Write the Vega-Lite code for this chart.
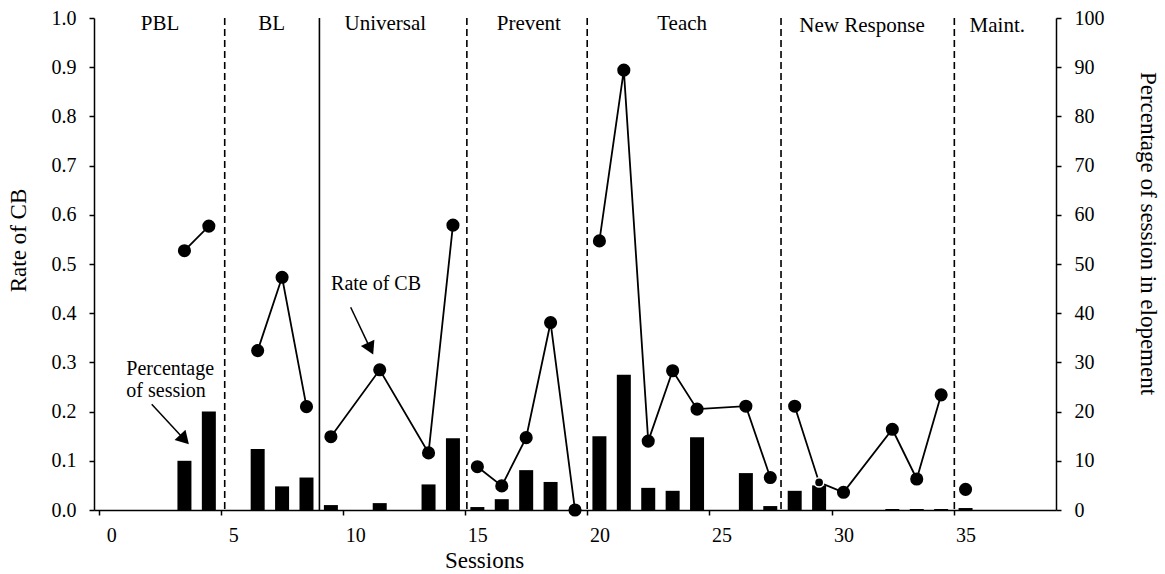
{
  "$schema": "https://vega.github.io/schema/vega-lite/v6.json",
  "width": 962,
  "height": 492,
  "autosize": {"type": "none"},
  "padding": {"left": 94, "top": 18, "right": 109, "bottom": 64},
  "background": "white",
  "config": {
    "view": {"stroke": null},
    "font": "Liberation Serif",
    "axis": {
      "labelFont": "Liberation Serif",
      "labelFontSize": 20,
      "labelColor": "black",
      "titleFont": "Liberation Serif",
      "titleFontSize": 23,
      "titleFontWeight": "normal",
      "titleColor": "black",
      "domainColor": "black",
      "domainWidth": 1.5,
      "tickColor": "black",
      "tickWidth": 1.5,
      "tickSize": 5,
      "grid": false,
      "labelFlush": false,
      "labelOverlap": false
    },
    "text": {"font": "Liberation Serif", "color": "black"}
  },
  "datasets": {
    "sessions": [
      {"session": 3, "rate": 0.527, "pct": 10.0, "phase": "PBL"},
      {"session": 4, "rate": 0.577, "pct": 20.0, "phase": "PBL"},
      {"session": 6, "rate": 0.324, "pct": 12.4, "phase": "BL"},
      {"session": 7, "rate": 0.473, "pct": 4.8, "phase": "BL"},
      {"session": 8, "rate": 0.21, "pct": 6.6, "phase": "BL"},
      {"session": 9, "rate": 0.149, "pct": 1.0, "phase": "Universal"},
      {"session": 11, "rate": 0.285, "pct": 1.4, "phase": "Universal"},
      {"session": 13, "rate": 0.116, "pct": 5.2, "phase": "Universal"},
      {"session": 14, "rate": 0.579, "pct": 14.6, "phase": "Universal"},
      {"session": 15, "rate": 0.088, "pct": 0.6, "phase": "Prevent"},
      {"session": 16, "rate": 0.049, "pct": 2.2, "phase": "Prevent"},
      {"session": 17, "rate": 0.147, "pct": 8.1, "phase": "Prevent"},
      {"session": 18, "rate": 0.381, "pct": 5.7, "phase": "Prevent"},
      {"session": 19, "rate": 0.0, "pct": 0, "phase": "Prevent"},
      {"session": 20, "rate": 0.547, "pct": 15.0, "phase": "Teach"},
      {"session": 21, "rate": 0.894, "pct": 27.5, "phase": "Teach"},
      {"session": 22, "rate": 0.14, "pct": 4.5, "phase": "Teach"},
      {"session": 23, "rate": 0.283, "pct": 3.9, "phase": "Teach"},
      {"session": 24, "rate": 0.205, "pct": 14.8, "phase": "Teach"},
      {"session": 26, "rate": 0.211, "pct": 7.5, "phase": "Teach"},
      {"session": 27, "rate": 0.066, "pct": 0.8, "phase": "Teach"},
      {"session": 28, "rate": 0.211, "pct": 3.9, "phase": "New Response"},
      {"session": 29, "rate": 0.056, "pct": 5.0, "phase": "New Response"},
      {"session": 30, "rate": 0.036, "pct": 0, "phase": "New Response"},
      {"session": 32, "rate": 0.164, "pct": 0.2, "phase": "New Response"},
      {"session": 33, "rate": 0.063, "pct": 0.2, "phase": "New Response"},
      {"session": 34, "rate": 0.234, "pct": 0.2, "phase": "New Response"},
      {"session": 35, "rate": 0.042, "pct": 0.4, "phase": "Maint."}
    ],
    "dashedLines": [
      {"session": 4.65}, {"session": 14.57}, {"session": 19.5}, {"session": 27.44}, {"session": 34.54}
    ],
    "solidLines": [
      {"session": 8.53}
    ],
    "phaseLabels": [
      {"session": 2.0, "rate": 0.9746, "label": "PBL"},
      {"session": 6.57, "rate": 0.9746, "label": "BL"},
      {"session": 11.23, "rate": 0.9746, "label": "Universal"},
      {"session": 17.11, "rate": 0.9746, "label": "Prevent"},
      {"session": 23.39, "rate": 0.9746, "label": "Teach"},
      {"session": 30.76, "rate": 0.971, "label": "New Response"},
      {"session": 36.3, "rate": 0.971, "label": "Maint."}
    ],
    "rateNote": [
      {"session": 10.85, "rate": 0.447, "label": "Rate of CB"}
    ],
    "pctNote": [
      {"session": 0.62, "rate": 0.274, "label": "Percentage"},
      {"session": 0.62, "rate": 0.23, "label": "of session"}
    ],
    "rateArrow": [
      {"session": 9.81, "rate": 0.412, "session2": 10.58, "rate2": 0.3317}
    ],
    "pctArrow": [
      {"session": 1.66, "rate": 0.215, "session2": 2.94, "rate2": 0.1463}
    ]
  },
  "layer": [
    {
      "data": {"name": "dashedLines"},
      "mark": {"type": "rule", "color": "black", "strokeWidth": 1.6, "strokeDash": [7, 4]},
      "encoding": {
        "x": {
          "field": "session", "type": "quantitative",
          "scale": {"domain": [-0.5, 38.5], "nice": false, "zero": false},
          "axis": {"title": "Sessions", "values": [0, 5, 10, 15, 20, 25, 30, 35], "tickOffset": -12, "labelOffset": 12, "labelPadding": 10, "titleX": 390, "titleY": 57, "titleAlign": "center", "titleBaseline": "alphabetic"}
        }
      }
    },
    {
      "data": {"name": "solidLines"},
      "mark": {"type": "rule", "color": "black", "strokeWidth": 1.6},
      "encoding": {
        "x": {
          "field": "session", "type": "quantitative",
          "scale": {"domain": [-0.5, 38.5], "nice": false, "zero": false},
          "axis": {"title": "Sessions", "values": [0, 5, 10, 15, 20, 25, 30, 35], "tickOffset": -12, "labelOffset": 12, "labelPadding": 10, "titleX": 390, "titleY": 57, "titleAlign": "center", "titleBaseline": "alphabetic"}
        }
      }
    },
    {
      "data": {"name": "sessions"},
      "transform": [{"filter": "datum.pct > 0"}],
      "mark": {"type": "bar", "color": "black", "width": 14},
      "encoding": {
        "x": {
          "field": "session", "type": "quantitative",
          "scale": {"domain": [-0.5, 38.5], "nice": false, "zero": false},
          "axis": {"title": "Sessions", "values": [0, 5, 10, 15, 20, 25, 30, 35], "tickOffset": -12, "labelOffset": 12, "labelPadding": 10, "titleX": 390, "titleY": 57, "titleAlign": "center", "titleBaseline": "alphabetic"}
        },
        "y": {
          "field": "pct", "type": "quantitative",
          "scale": {"domain": [0, 100], "nice": false},
          "axis": {
            "orient": "right",
            "title": "Percentage of session in elopement",
            "values": [0, 10, 20, 30, 40, 50, 60, 70, 80, 90, 100],
            "labelPadding": 13,
            "titleAngle": 90,
            "titleX": 91,
            "titleY": 215,
            "titleAlign": "center",
            "titleBaseline": "middle"
          }
        }
      }
    },
    {
      "encoding": {
        "x": {
          "field": "session", "type": "quantitative",
          "scale": {"domain": [-0.5, 38.5], "nice": false, "zero": false},
          "axis": {"title": "Sessions", "values": [0, 5, 10, 15, 20, 25, 30, 35], "tickOffset": -12, "labelOffset": 12, "labelPadding": 10, "titleX": 390, "titleY": 57, "titleAlign": "center", "titleBaseline": "alphabetic"}
        },
        "y": {
          "field": "rate", "type": "quantitative",
          "scale": {"domain": [0, 1], "nice": false},
          "axis": {
            "orient": "left",
            "title": "Rate of CB",
            "values": [0, 0.1, 0.2, 0.3, 0.4, 0.5, 0.6, 0.7, 0.8, 0.9, 1.0],
            "format": ".1f",
            "labelPadding": 13,
            "titleAngle": -90,
            "titleX": -76,
            "titleY": 222,
            "titleAlign": "center",
            "titleBaseline": "middle"
          }
        }
      },
      "layer": [
        {
          "data": {"name": "sessions"},
          "mark": {"type": "line", "color": "black", "strokeWidth": 1.8},
          "encoding": {
            "detail": {"field": "phase"},
            "order": {"field": "session", "type": "quantitative"}
          }
        },
        {
          "data": {"name": "sessions"},
          "mark": {"type": "circle", "color": "black", "opacity": 1, "strokeWidth": 1.5},
          "encoding": {
            "size": {"condition": {"test": "datum.session === 29", "value": 85}, "value": 135},
            "stroke": {"condition": {"test": "datum.session === 29", "value": "white"}, "value": "black"}
          }
        },
        {
          "data": {"name": "phaseLabels"},
          "mark": {"type": "text", "fontSize": 21, "align": "center", "baseline": "alphabetic"},
          "encoding": {"text": {"field": "label"}}
        },
        {
          "data": {"name": "rateNote"},
          "mark": {"type": "text", "fontSize": 20, "align": "center", "baseline": "alphabetic"},
          "encoding": {"text": {"field": "label"}}
        },
        {
          "data": {"name": "pctNote"},
          "mark": {"type": "text", "fontSize": 20, "align": "left", "baseline": "alphabetic"},
          "encoding": {"text": {"field": "label"}}
        },
        {
          "data": {"name": "rateArrow"},
          "mark": {"type": "rule", "color": "black", "strokeWidth": 1.5},
          "encoding": {
            "x2": {"field": "session2"},
            "y2": {"field": "rate2"}
          }
        },
        {
          "data": {"name": "rateArrow"},
          "mark": {"type": "point", "shape": "triangle", "filled": true, "color": "black", "opacity": 1, "size": 225, "angle": 154.5},
          "encoding": {
            "x": {"field": "session2", "type": "quantitative"},
            "y": {"field": "rate2", "type": "quantitative"}
          }
        },
        {
          "data": {"name": "pctArrow"},
          "mark": {"type": "rule", "color": "black", "strokeWidth": 1.5},
          "encoding": {
            "x2": {"field": "session2"},
            "y2": {"field": "rate2"}
          }
        },
        {
          "data": {"name": "pctArrow"},
          "mark": {"type": "point", "shape": "triangle", "filled": true, "color": "black", "opacity": 1, "size": 225, "angle": 136.9},
          "encoding": {
            "x": {"field": "session2", "type": "quantitative"},
            "y": {"field": "rate2", "type": "quantitative"}
          }
        }
      ]
    }
  ],
  "resolve": {"scale": {"y": "independent"}}
}
